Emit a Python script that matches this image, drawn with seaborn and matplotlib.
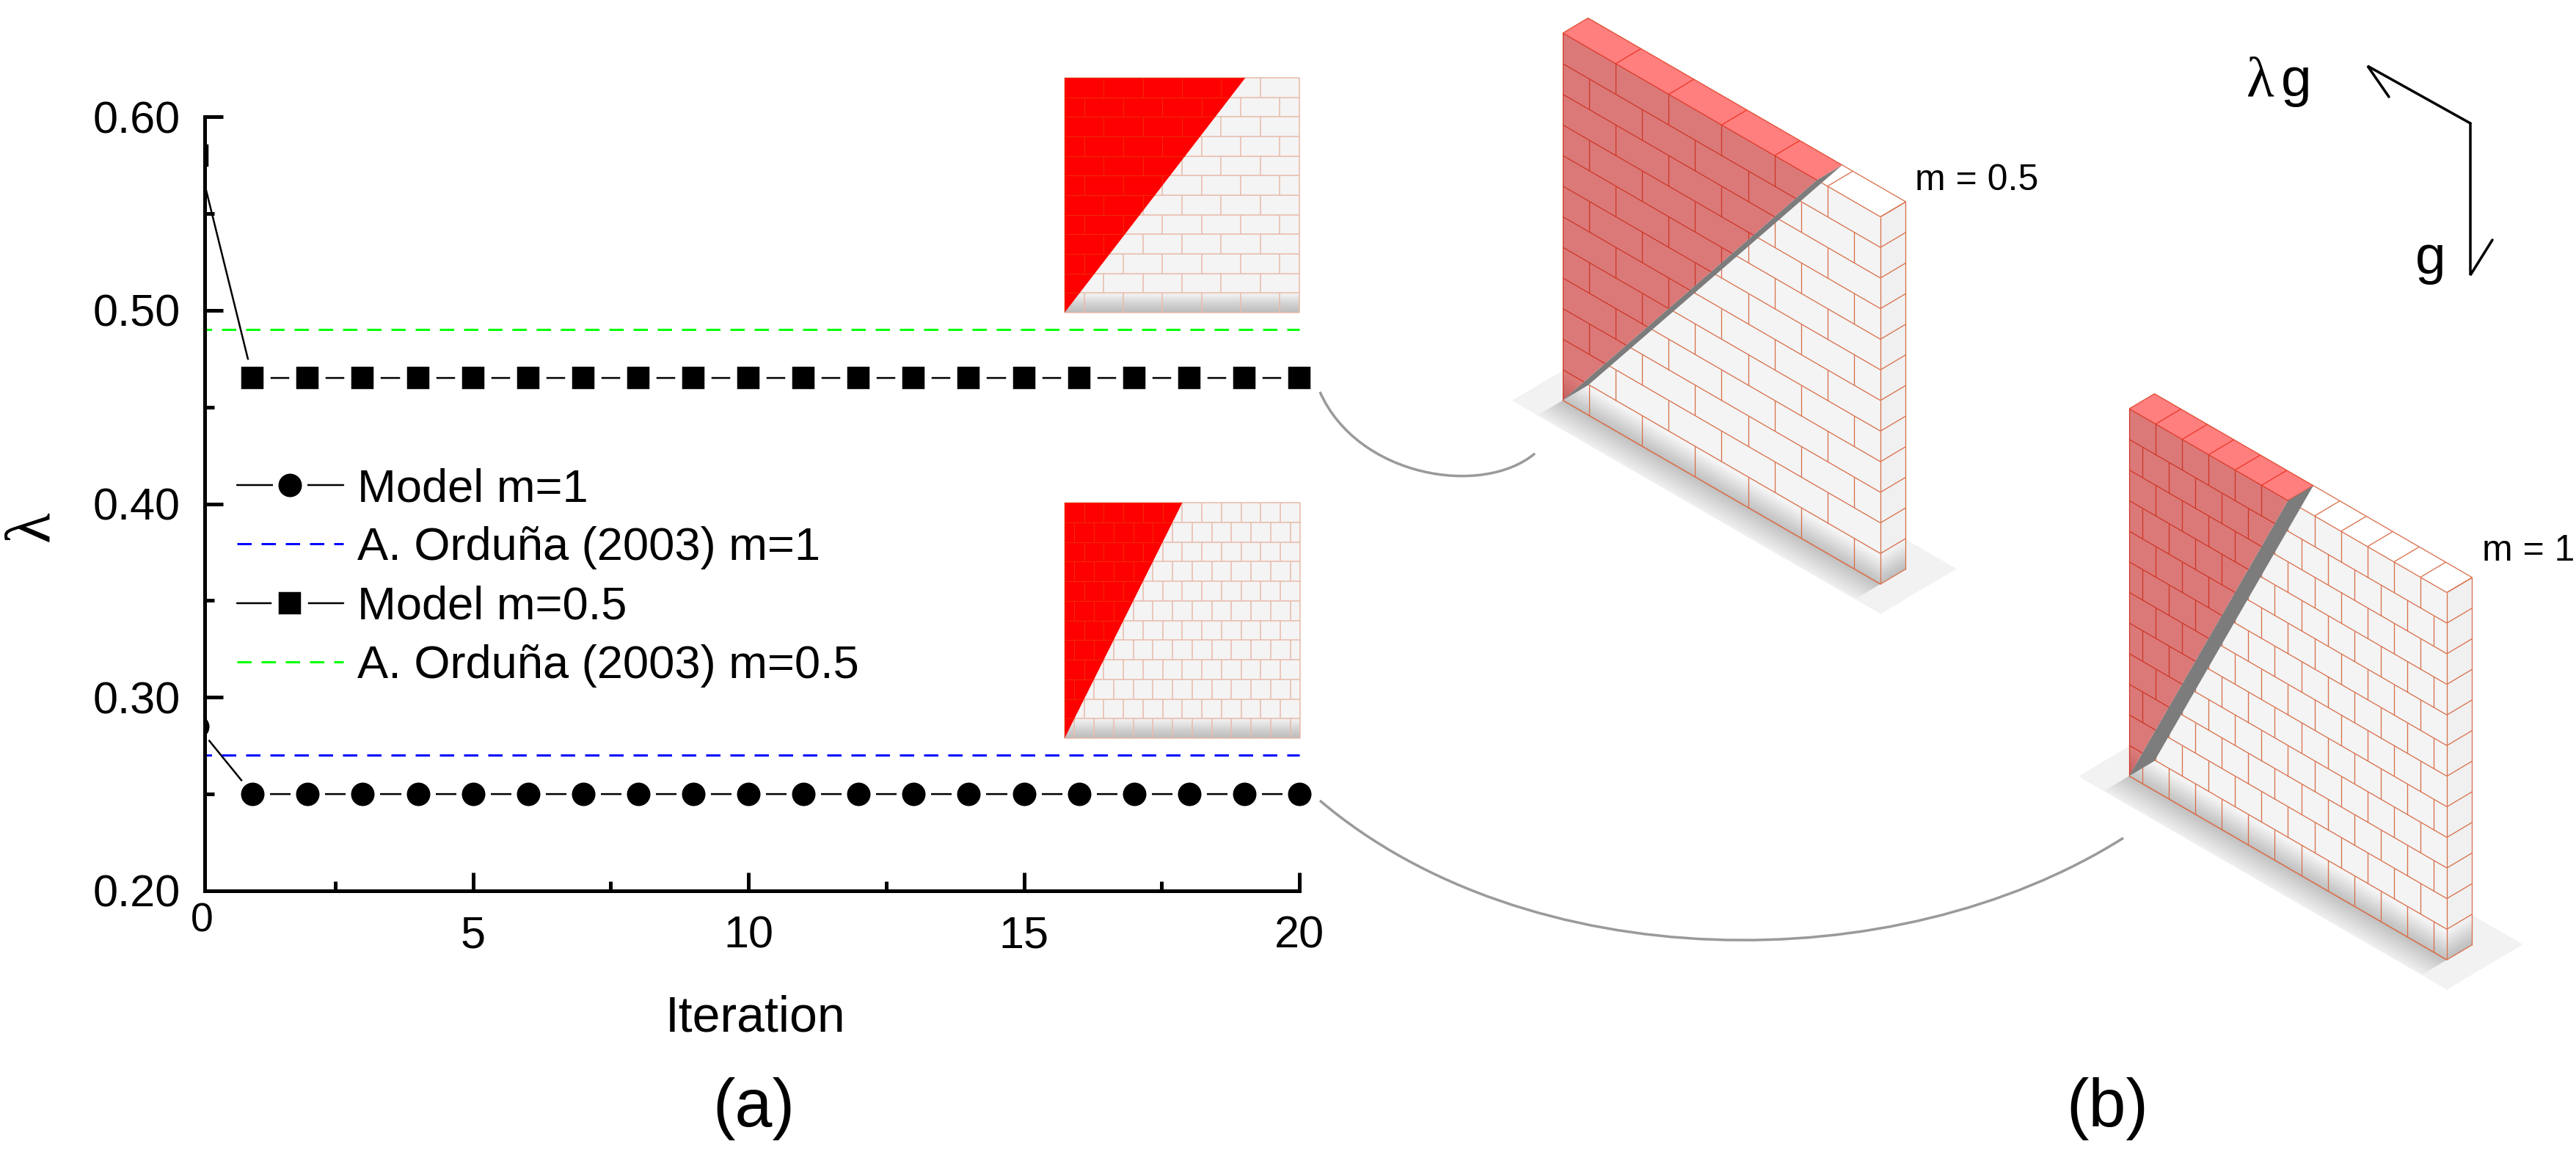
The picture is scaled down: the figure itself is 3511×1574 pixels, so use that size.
import numpy as np
import pandas as pd
import seaborn as sns
from matplotlib import pyplot as plt
from matplotlib.collections import LineCollection
from matplotlib.patches import PathPatch, Polygon
from matplotlib.path import Path
from matplotlib.ticker import FixedLocator

sns.set_theme(style="ticks")
plt.rcParams['font.family'] = ['Liberation Sans', 'DejaVu Sans']
plt.rcParams['axes.unicode_minus'] = False

W, H = 3512, 1574
PX = 72 / 100  # one pixel in points at dpi 100

# chart values
iteration = [0, 1, 2, 3, 4, 5, 6, 7, 8, 9, 10, 11, 12, 13, 14, 15, 16, 17, 18, 19, 20]
model_m1 = [0.285, 0.25, 0.25, 0.25, 0.25, 0.25, 0.25, 0.25, 0.25, 0.25, 0.25,
            0.25, 0.25, 0.25, 0.25, 0.25, 0.25, 0.25, 0.25, 0.25, 0.25]
model_m05 = [0.58, 0.465, 0.465, 0.465, 0.465, 0.465, 0.465, 0.465, 0.465, 0.465, 0.465,
             0.465, 0.465, 0.465, 0.465, 0.465, 0.465, 0.465, 0.465, 0.465, 0.465]
orduna_x = [0, 20]
orduna_m1 = [0.27, 0.27]
orduna_m05 = [0.49, 0.49]
y_major = [0.2, 0.3, 0.4, 0.5, 0.6]
y_minor = [0.25, 0.35, 0.45, 0.55]
x_major = [5, 10, 15, 20]
x_minor = [2.5, 7.5, 12.5, 17.5]

JOINT = '#d9704c'
JOINT_PALE = '#e8bcac'


def fill(ax, pts, color, z, alpha=None, **kw):
    patch = Polygon(pts, closed=True, facecolor=color, edgecolor='none', alpha=alpha, zorder=z, **kw)
    ax.add_patch(patch)
    return patch


def brick_joints(n_bricks, n_rows=12):
    # joints of the running bond, in unit wall coordinates (u along, v down)
    segs = []
    for i in range(n_rows + 1):
        segs.append([(0, i / n_rows), (1, i / n_rows)])
    for i in range(n_rows):
        top, bottom = i / n_rows, (i + 1) / n_rows
        segs.append([(0, top), (0, bottom)])
        segs.append([(1, top), (1, bottom)])
        shift = 0.5 if i % 2 else 0.0
        for k in range(n_bricks):
            u = (k + shift) / n_bricks
            if 0 < u < 1:
                segs.append([(u, top), (u, bottom)])
    return segs


def draw_wall(ax, origin, n_bricks, red_frac):
    o = np.array(origin, float)
    u = np.array((433, 250.5))
    h = np.array((0, 500.5))
    d = np.array((34.5, -20.5))
    base = o + h

    def front(a, b):
        return o + a * u + b * h

    # ground slab and its shadow
    ground = [base - 0.08 * u - d, base + 1.08 * u - d, base + 1.08 * u + 2 * d, base - 0.08 * u + 2 * d]
    fill(ax, ground, '#f2f2f2', 1)
    for t in np.linspace(0.08, 1.0, 12):
        fill(ax, [base, base + u, base + u - t * d, base - t * d], 'black', 2, alpha=0.014)

    # faces
    fill(ax, [front(0, 0), front(1, 0), front(1, 1), front(0, 1)], '#f4f4f4', 3)
    fill(ax, [front(1, 0), front(1, 0) + d, front(1, 1) + d, front(1, 1)], '#f0f0f0', 3)
    fill(ax, [front(0, 0), front(1, 0), front(1, 0) + d, front(0, 0) + d], 'white', 3)
    for t in np.linspace(0.008, 0.07, 10):
        fill(ax, [front(0, 1 - t), front(1, 1 - t), front(1, 1), front(0, 1)], 'black', 3.5, alpha=0.02)
        fill(ax, [front(1, 1 - t), front(1, 1 - t) + d, front(1, 1) + d, front(1, 1)], 'black', 3.5, alpha=0.02)

    # joints
    segs = [[front(*p) for p in seg] for seg in brick_joints(n_bricks)]
    for i in range(13):
        segs.append([front(1, i / 12), front(1, i / 12) + d])
    segs.append([front(1, 0) + d, front(1, 1) + d])
    segs.append([front(0, 0), front(0, 0) + d])
    segs.append([front(0, 0) + d, front(1, 0) + d])
    for k in range(1, n_bricks + 1):
        segs.append([front(k / n_bricks, 0), front(k / n_bricks, 0) + d])
    segs.append([front(0, 1), front(1, 1)])
    ax.add_collection(LineCollection(segs, colors=JOINT, linewidths=1.3 * PX, zorder=4))

    # failure wedge
    tip = front(red_frac, 0)
    fill(ax, [front(0, 0), tip, front(0, 1)], '#c40000', 5, alpha=0.5)
    fill(ax, [front(0, 0), front(0, 0) + d, tip + d, tip], '#ff0000', 5, alpha=0.5)
    fill(ax, [front(0, 1), front(0, 1) + d, tip + d, tip], '#7c7c7c', 5)


def draw_inset(ax, left, top, size, n_bricks, red_frac):
    def pt(a, b):
        return (left + a * size, top + b * size)

    fill(ax, [pt(0, 0), pt(1, 0), pt(1, 1), pt(0, 1)], '#f4f4f4', 6)
    for t in np.linspace(0.006, 0.08, 12):
        fill(ax, [pt(0, 1 - t), pt(1, 1 - t), pt(1, 1), pt(0, 1)], 'black', 6.2, alpha=0.02)
    segs = [[pt(*p) for p in seg] for seg in brick_joints(n_bricks)]
    ax.add_collection(LineCollection(segs, colors=JOINT_PALE, linewidths=1.6 * PX, zorder=6.5))
    wedge = fill(ax, [pt(0, 0), pt(red_frac, 0), pt(0, 1)], '#ff0000', 7)
    lines = LineCollection(segs, colors='#ee2a08', linewidths=1.0 * PX, zorder=7.5)
    ax.add_collection(lines)
    lines.set_clip_path(wedge)


def connector(ax, pts):
    codes = [Path.MOVETO, Path.CURVE4, Path.CURVE4, Path.CURVE4]
    ax.add_patch(PathPatch(Path(pts, codes), facecolor='none', edgecolor='#9a9a9a',
                           linewidth=3.5 * PX, zorder=2))


fig = plt.figure(figsize=(W / 100, H / 100), dpi=100, facecolor='white')

# chart, pixel box
x_left = 0.13
x_right = 20.3
left, right, top, bottom = 279, 1793.5, 159, 1214
ax = fig.add_axes([left / W, 1 - bottom / H, (right - left) / W, (bottom - top) / H])
ax.set_facecolor('none')

sns.lineplot(data=pd.DataFrame({'x': iteration, 'y': model_m1}), x='x', y='y', ax=ax,
             color='black', linewidth=2.5 * PX, marker='o', markersize=39.5 * PX,
             markerfacecolor='black', markeredgecolor='white', markeredgewidth=7.5 * PX,
             errorbar=None, label='Model m=1')
sns.lineplot(x=orduna_x, y=orduna_m1, ax=ax, color='#0000ff', linewidth=3 * PX,
             linestyle=(0, (6.5, 4.5)), errorbar=None, label='A. Orduña (2003) m=1')
sns.lineplot(data=pd.DataFrame({'x': iteration, 'y': model_m05}), x='x', y='y', ax=ax,
             color='black', linewidth=2.5 * PX, marker='s', markersize=39.5 * PX,
             markerfacecolor='black', markeredgecolor='white', markeredgewidth=9.5 * PX,
             errorbar=None, label='Model m=0.5')
sns.lineplot(x=orduna_x, y=orduna_m05, ax=ax, color='#00ff00', linewidth=3 * PX,
             linestyle=(0, (6.5, 4.5)), errorbar=None, label='A. Orduña (2003) m=0.5')

ax.set_xlim(x_left, x_right)
ax.set_ylim(0.2, 0.6)
sns.despine(ax=ax)
ax.spines['left'].set_linewidth(5 * PX)
ax.spines['bottom'].set_linewidth(5 * PX)
ax.spines['bottom'].set_bounds(x_left, 20)
ax.spines['left'].set_color('black')
ax.spines['bottom'].set_color('black')

ax.set_yticks(y_major)
ax.set_yticklabels(['0.20', '0.30', '0.40', '0.50', '0.60'])
ax.yaxis.set_minor_locator(FixedLocator(y_minor))
ax.set_xticks(x_major)
ax.set_xticklabels(['5', '10', '15', '20'])
ax.xaxis.set_minor_locator(FixedLocator(x_minor))
ax.tick_params(which='major', direction='in', length=25 * PX, width=5 * PX, color='black',
               labelsize=44, labelcolor='black', pad=24)
ax.tick_params(which='minor', direction='in', length=13 * PX, width=5 * PX, color='black')

leg = ax.legend(loc='upper left', bbox_to_anchor=((323 - left) / (right - left), (bottom - 637) / (bottom - top)),
                frameon=False, fontsize=45.5, handlelength=2.29, handletextpad=0.31,
                labelspacing=0.34, borderpad=0, borderaxespad=0, labelcolor='black')

# illustration layer in picture pixels
over = fig.add_axes([0, 0, 1, 1], zorder=5)
over.set_xlim(0, W)
over.set_ylim(H, 0)
over.axis('off')

ax.set_xlabel('Iteration', fontsize=49, color='black')
ax.xaxis.set_label_coords(1030, 1355, transform=over.transData)
ax.set_ylabel('λ', fontsize=62, color='black', family=['Liberation Serif', 'DejaVu Serif'])
ax.yaxis.set_label_coords(84, 717, transform=over.transData)
over.text(275, 1256, '0', fontsize=40, color='black', ha='center', va='center')

draw_inset(over, 1451, 106, 320, 6, 0.77)
draw_inset(over, 1451, 685, 321, 12, 0.5)
draw_wall(over, (2130, 45), 6, 0.8)
draw_wall(over, (2902, 557), 12, 0.5)

connector(over, [(1799, 534), (1850, 650), (2020, 678), (2092, 618)])
connector(over, [(1799, 1091), (2080, 1330), (2580, 1340), (2894, 1142)])

over.text(2610, 246, 'm = 0.5', fontsize=36, color='black', ha='left', va='center')
over.text(3383, 751, 'm = 1', fontsize=36, color='black', ha='left', va='center')
over.text(1027, 1511, '(a)', fontsize=66, color='black', ha='center', va='center')
over.text(2872, 1511, '(b)', fontsize=66, color='black', ha='center', va='center')

# load arrows
over.plot([3367, 3227, 3256], [168, 90, 132], color='black', linewidth=3.5 * PX, solid_joinstyle='miter')
over.plot([3367, 3367, 3397], [168, 375, 327], color='black', linewidth=3.5 * PX, solid_joinstyle='miter')
over.text(3081, 131, 'λ', fontsize=56, color='black', family=['Liberation Serif', 'DejaVu Serif'],
          ha='center', va='baseline')
over.text(3130, 131, 'g', fontsize=54, color='black', ha='center', va='baseline')
over.text(3313, 373, 'g', fontsize=54, color='black', ha='center', va='baseline')

over.set_xlim(0, W)
over.set_ylim(H, 0)

fig.savefig('out.png', dpi=100)
